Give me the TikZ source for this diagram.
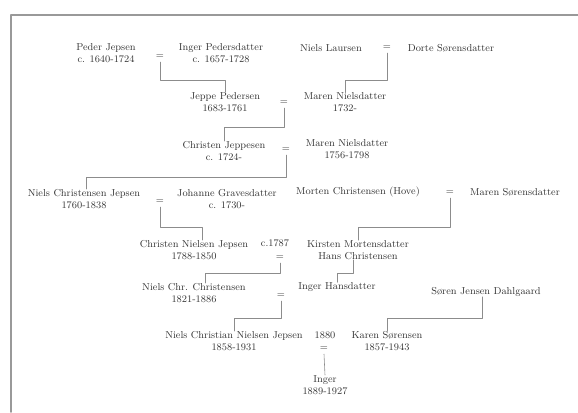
\documentclass[tikz,border=0pt]{standalone}
\usepackage{xcolor}
\usepackage{tikz}
\usetikzlibrary{calc}
\tikzset{
	person/.style={align=center,inner sep=0pt,text=black!80,font=\fontsize{8.6}{10.3}\selectfont},
	wed/.style={inner sep=2.5pt,text=black!80,font=\fontsize{8.6}{10.3}\selectfont},
	link/.style={color=black!45,line width=0.5pt}
}
\begin{document}
\begin{tikzpicture}[line cap=round,line join=round,x=0.03cm,y=-0.03cm]
		\useasboundingbox (0,0) rectangle (578,412);
		\draw[color=black!40,line width=1.3pt] (578,15) -- (11,15) -- (11,412);
		% first generation
		\node[person] (peder) at (106,53) {Peder Jepsen\\c. 1640-1724};
		\node[wed] (eqA) at (160,57) {=};
		\node[person] (inger) at (221,53) {Inger Pedersdatter\\c. 1657-1728};
		\node[person] (niels) at (331,48) {Niels Laursen};
		\node[wed] (eqB) at (387,48) {=};
		\node[person] (dorte) at (451,48) {Dorte Sørensdatter};
		\node[person] (jeppe) at (225,102) {Jeppe Pedersen\\1683-1761};
		\node[wed] (eqC) at (284,103) {=};
		\node[person] (marenA) at (345,102) {Maren Nielsdatter\\1732-};
		\node[person] (christen) at (224,151) {Christen Jeppesen\\c. 1724-};
		\node[wed] (eqD) at (286,150) {=};
		\node[person] (marenB) at (347,149) {Maren Nielsdatter\\1756-1798};
		\node[person] (nielsCJ) at (84,199) {Niels Christensen Jepsen\\1760-1838};
		\node[wed] (eqE) at (160,202) {=};
		\node[person] (johanne) at (227,199) {Johanne Gravesdatter\\c. 1730-};
		\node[person] (morten) at (358,192) {Morten Christensen (Hove)};
		\node[wed] (eqF) at (450,193) {=};
		\node[person] (marenC) at (515,192) {Maren Sørensdatter};
		\node[person] (christenNJ) at (194,250) {Christen Nielsen Jepsen\\1788-1850};
		\node[person] (yrG) at (275,243) {c.1787};
		\node[wed] (eqG) at (280,258) {=};
		\node[person] (kirsten) at (358,250) {Kirsten Mortensdatter\\Hans Christensen};
		\node[person] (nielsChr) at (194,293) {Niels Chr. Christensen\\1821-1886};
		\node[wed] (eqH) at (281,296) {=};
		\node[person] (ingerH) at (337,287) {Inger Hansdatter};
		\node[person] (soren) at (486,292) {Søren Jensen Dahlgaard};
		\node[person] (nielsCNJ) at (234,341) {Niels Christian Nielsen Jepsen\\1858-1931};
		\node[person] (yrI) at (325,335) {1880};
		\node[wed] (eqI) at (324,349) {=};
		\node[person] (karen) at (387,341) {Karen Sørensen\\1857-1943};
		\node[person] (ingerF) at (325,385) {Inger\\1889-1927};
		% bars
		\coordinate (barA) at (0,80);
		\coordinate (barC) at (0,127);
		\coordinate (barD) at (0,177);
		\coordinate (barE) at (0,227);
		\coordinate (barG) at (0,273);
		\coordinate (barH) at (0,318);
		\draw[link] (eqA.south) -- (eqA.south |- barA) -| (jeppe.north);
		\draw[link] (eqB.south) -- (eqB.south |- barA) -| (marenA.north);
		\draw[link] (eqC.south) -- (eqC.south |- barC) -| (christen.north);
		\draw[link] (eqD.south) -- (eqD.south |- barD) -| ([xshift=2pt]nielsCJ.north);
		\draw[link] (eqE.south) -- (eqE.south |- barE) -| ([xshift=7pt]christenNJ.north);
		\draw[link] (eqF.south) -- (eqF.south |- barE) -| (kirsten.north);
		\draw[link] (eqG.south) -- (eqG.south |- barG) -| ([xshift=10pt]nielsChr.north);
		\draw[link] ([xshift=-4pt]kirsten.south) -- ([xshift=-4pt]kirsten.south |- barG) -| (ingerH.north);
		\draw[link] (eqH.south) -- (eqH.south |- barH) -| (nielsCNJ.north);
		\draw[link] ([xshift=-3pt]soren.south) -- ([xshift=-3pt]soren.south |- barH) -| (karen.north);
		\draw[link] (eqI.south) -- (ingerF.north);
\end{tikzpicture}
\end{document}
